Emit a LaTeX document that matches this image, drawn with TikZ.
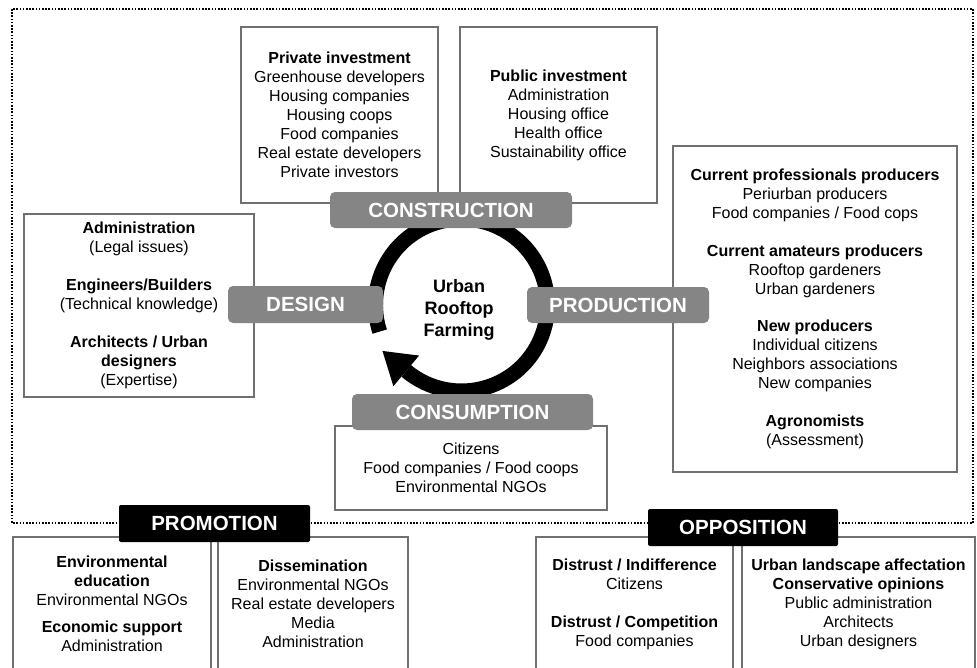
\documentclass[tikz,border=0pt]{standalone}
\usepackage{fontspec}
\setmainfont{Liberation Sans}
\usetikzlibrary{calc}
\definecolor{boxline}{RGB}{112,112,112}
\definecolor{labgray}{RGB}{133,133,133}
\tikzset{
  box/.style={draw=boxline, line width=2pt, fill=white, inner sep=0pt, align=center,
    font=\fontsize{16}{19}\selectfont},
  glabel/.style={fill=labgray, rounded corners=5pt, inner sep=0pt, text=white,
    font=\fontsize{20.5}{24}\selectfont\bfseries},
  blabel/.style={fill=black, rounded corners=2pt, inner sep=0pt, text=white,
    font=\fontsize{20.5}{24}\selectfont\bfseries},
  ring/.style={line width=15pt, black},
  hub/.style={align=center, font=\fontsize{18}{21.7}\selectfont\bfseries},
  border/.style={line width=2pt, dash pattern=on 1.6pt off 1.6pt}
}
\begin{document}
\begin{tikzpicture}[x=1pt,y=-1pt]
\useasboundingbox (0,0) rectangle (977,667);
\clip (0,0) rectangle (977,667);
% dotted frame
\draw[border] (12,9) rectangle (973,523);
% boxes
\node[box, minimum width=197pt, minimum height=176pt] (priv) at (339.5,115)
 {\textbf{Private investment}\\Greenhouse developers\\Housing companies\\Housing coops\\Food companies\\Real estate developers\\Private investors};
\node[box, minimum width=197pt, minimum height=176pt] (pub) at (558.5,115)
 {\textbf{Public investment}\\Administration\\Housing office\\Health office\\Sustainability office};
\node[box, minimum width=230pt, minimum height=183pt] (desbox) at (139,305.5)
 {\textbf{Administration}\\(Legal issues)\\[19pt]\textbf{Engineers/Builders}\\(Technical knowledge)\\[19pt]\textbf{Architects / Urban}\\\textbf{designers}\\(Expertise)};
\node[box, minimum width=284pt, minimum height=326pt] (prodbox) at (815,309)
 {\textbf{Current professionals producers}\\Periurban producers\\Food companies / Food cops\\[18.5pt]\textbf{Current amateurs producers}\\Rooftop gardeners\\Urban gardeners\\[18.5pt]\textbf{New producers}\\Individual citizens\\Neighbors associations\\New companies\\[18.5pt]\textbf{Agronomists}\\(Assessment)};
\node[box, minimum width=272pt, minimum height=84pt] (consbox) at (471,468)
 {Citizens\\Food companies / Food coops\\Environmental NGOs};
\node[box, minimum width=198pt, minimum height=134pt] (promoA) at (112,604)
 {\textbf{Environmental}\\\textbf{education}\\Environmental NGOs\\[8pt]\textbf{Economic support}\\Administration};
\node[box, minimum width=190pt, minimum height=134pt] (promoB) at (313,604)
 {\textbf{Dissemination}\\Environmental NGOs\\Real estate developers\\Media\\Administration};
\node[box, minimum width=197pt, minimum height=134pt] (oppA) at (634.5,604)
 {\textbf{Distrust / Indifference}\\Citizens\\[19pt]\textbf{Distrust / Competition}\\Food companies};
\node[box, minimum width=233pt, minimum height=134pt] (oppB) at (858.5,604)
 {\textbf{Urban landscape affectation}\\\textbf{Conservative opinions}\\Public administration\\Architects\\Urban designers};
% cycle ring
\coordinate (ctr) at (461.5,305);
\draw[ring] ($(ctr)+(162:86)$) arc[start angle=162, end angle=490, radius=86];
\coordinate (ae) at ($(ctr)+(130:86)$);
\fill[black] ($(ctr)+(130:66)$) -- ($(ctr)+(130:106)$) -- ($(ae)+(220:31)$) -- cycle;
% labels
\node[glabel, minimum width=242pt, minimum height=36pt] (constr) at (451,210) {CONSTRUCTION};
\node[glabel, minimum width=155pt, minimum height=37pt] (design) at (305.5,304.5) {DESIGN};
\node[glabel, minimum width=182pt, minimum height=36pt] (prod) at (618,305) {PRODUCTION};
\node[glabel, minimum width=241pt, minimum height=36pt] (cons) at (472.5,412) {CONSUMPTION};
\node[blabel, minimum width=191pt, minimum height=37pt] (promo) at (214.5,523.5) {PROMOTION};
\node[blabel, minimum width=190pt, minimum height=37pt] (opp) at (743,527.5) {OPPOSITION};
\node[hub] (urf) at (459,310) {Urban\\Rooftop\\Farming};
\end{tikzpicture}
\end{document}
